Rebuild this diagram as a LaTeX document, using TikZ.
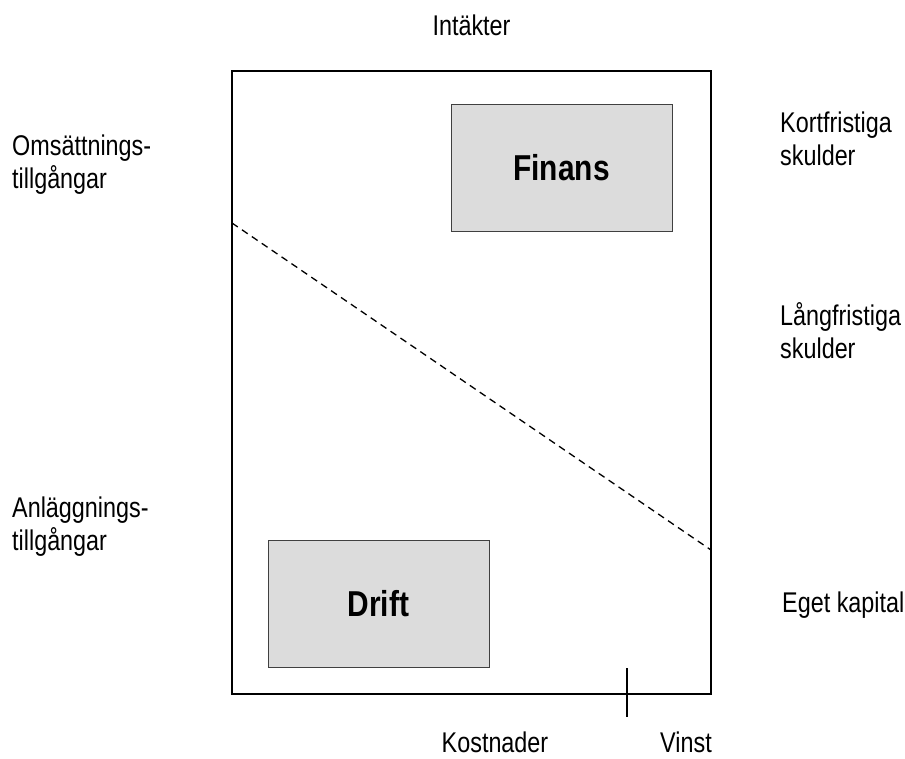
\documentclass[tikz,border=0pt]{standalone}
\usepackage{fontspec}
\newfontfamily\labfont{Liberation Sans}[FakeStretch=0.82]
\newfontfamily\boxfont{Liberation Sans}[FakeStretch=0.83]
\definecolor{boxfill}{HTML}{DCDCDC}
\definecolor{boxline}{HTML}{404040}
\begin{document}
\begin{tikzpicture}[x=1pt,y=-1pt,
  lbl/.style={inner sep=0pt, align=left, font=\labfont\fontsize{28.5}{33}\selectfont},
  area/.style={draw=boxline, line width=0.9pt, fill=boxfill, minimum width=221pt,
    minimum height=127pt, inner sep=0pt, font=\boxfont\bfseries\fontsize{36}{40}\selectfont},
  frame/.style={draw=black, line width=1.8pt, minimum width=479pt, minimum height=623pt, inner sep=0pt}]
\useasboundingbox (0,0) rectangle (905,758);

% balance sheet frame
\node[frame] (frame) at (471.5,382.5) {};

% split between the two areas
\coordinate (d1) at (232,223);
\coordinate (d2) at (711,550);
\draw[dashed, dash pattern=on 7pt off 5pt, line width=1.3pt] (d1) -- (d2);

% profit marker
\coordinate (t1) at (627,668);
\coordinate (t2) at (627,717);
\draw[line width=1.3pt] (t1) -- (t2);

% the two areas
\node[area] (finans) at (561.5,167.5) {Finans};
\node[area] (drift) at (378.5,604) {Drift};

% labels around the frame (base = baseline of the last line)
\node[lbl, anchor=base] (intakter) at (471.5,35) {Intäkter};
\node[lbl, anchor=base west] (oms) at (12,188) {Omsättnings-\\tillgångar};
\node[lbl, anchor=base west] (anl) at (12,550) {Anläggnings-\\tillgångar};
\node[lbl, anchor=base west] (kort) at (780,165) {Kortfristiga\\skulder};
\node[lbl, anchor=base west] (lang) at (780,358) {Långfristiga\\skulder};
\node[lbl, anchor=base west] (eget) at (782,612) {Eget kapital};
\node[lbl, anchor=base] (kost) at (495,752) {Kostnader};
\node[lbl, anchor=base] (vinst) at (686,752) {Vinst};
\end{tikzpicture}
\end{document}
